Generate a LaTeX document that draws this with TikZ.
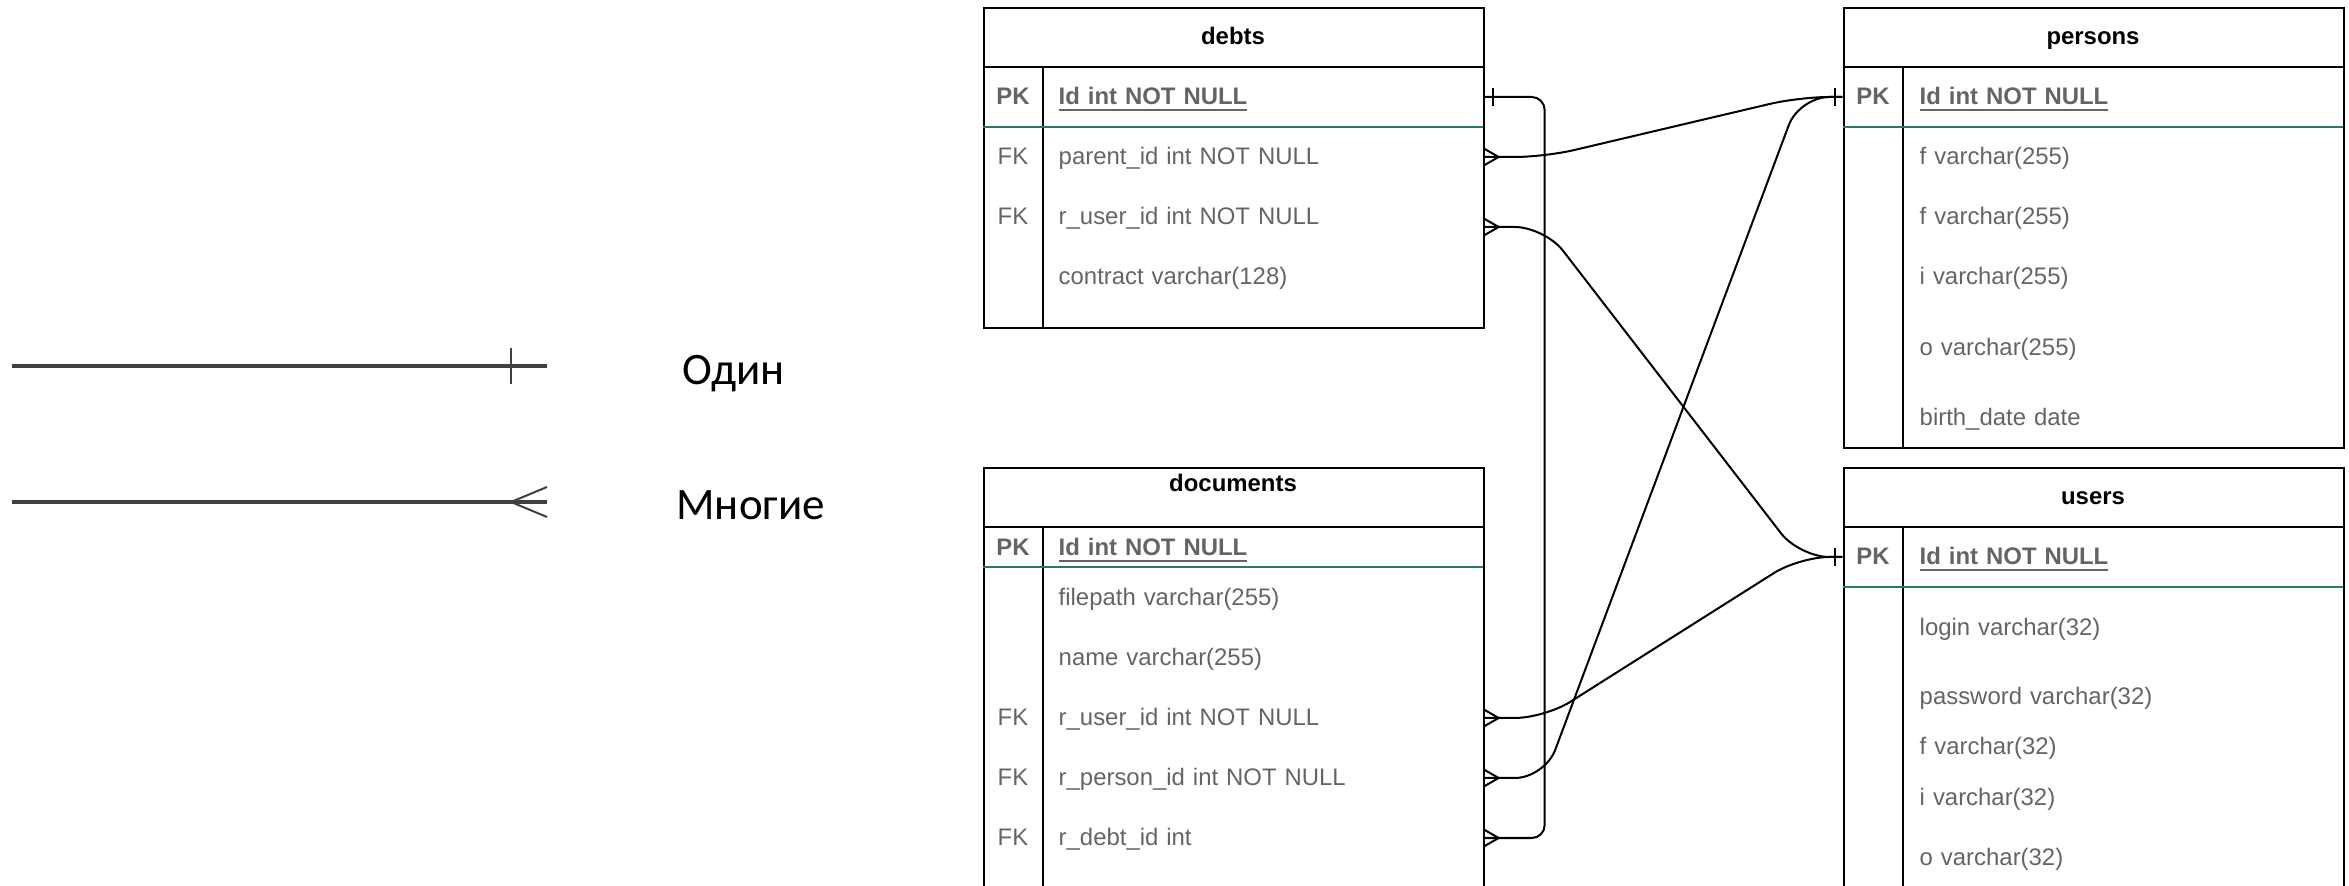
\documentclass[tikz,border=0pt]{standalone}
\usepackage{fontspec}
\setmainfont{Liberation Sans}
\newfontfamily\legendfont{Carlito}
\usetikzlibrary{positioning,decorations.markings}
\definecolor{fieldgray}{RGB}{100,100,100}
\definecolor{pkline}{RGB}{38,122,108}
\tikzset{
  tbl/.style={draw, line width=0.02cm, anchor=north west, minimum width=5cm, inner sep=0},
  hdr/.style={font=\fontsize{6.8}{8}\selectfont\bfseries, text height=5.2pt, text depth=0.8pt},
  key/.style={minimum width=0.6cm, inner sep=0, text=fieldgray, font=\fontsize{6.8}{8}\selectfont,
    text height=5.2pt, text depth=0.8pt},
  fld/.style={anchor=west, inner sep=0, text width=4.25cm, text=fieldgray, font=\fontsize{6.8}{8}\selectfont,
    text height=5.2pt, text depth=0.8pt},
  sep/.style={line width=0.02cm},
  pksep/.style={line width=0.02cm, pkline},
  conn/.style={line width=0.02cm},
  legline/.style={line width=0.035cm, black!75},
  legtext/.style={anchor=west, font=\legendfont\fontsize{12.8}{15}\selectfont},
  manyend/.style 2 args={postaction={decorate, decoration={markings,
      mark=at position 1 with {\draw[line width=0.02cm] (-#1,0) -- (0,#2) (-#1,0) -- (0,-#2);}}}},
  oneend/.style 2 args={postaction={decorate, decoration={markings,
      mark=at position #1 with {\draw[line width=0.02cm] (0,-#2) -- (0,#2);}}}},
}
\begin{document}
\begin{tikzpicture}[x=0.01cm, y=-0.01cm]
  \useasboundingbox (0,0) rectangle (2349,886);
  \clip (0,0) rectangle (2349,886);

  % tables
  \begin{scope}[every node/.style={tbl}]
    \node[minimum height=3.2cm] (debts) at (983,7) {};
    \node[minimum height=4.4cm] (documents) at (983,467) {};
    \node[minimum height=4.4cm] (persons) at (1843,7) {};
    \node[minimum height=4.4cm] (users) at (1843,467) {};
  \end{scope}

  \node[hdr] (debtst) at (1233,37) {debts};
  \node[hdr] (documentst) at (1233,484) {documents};
  \node[hdr] (personst) at (2093,37) {persons};
  \node[hdr] (userst) at (2093,497) {users};

  \draw[sep] (983,67) -- (1483,67) (1043,67) -- (1043,327);
  \draw[pksep] (983,127) -- (1483,127);
  \draw[sep] (983,527) -- (1483,527) (1043,527) -- (1043,900);
  \draw[pksep] (983,567) -- (1483,567);
  \draw[sep] (1843,67) -- (2343,67) (1903,67) -- (1903,447);
  \draw[pksep] (1843,127) -- (2343,127);
  \draw[sep] (1843,527) -- (2343,527) (1903,527) -- (1903,900);
  \draw[pksep] (1843,587) -- (2343,587);

  % debts
  \node[key, font=\fontsize{6.8}{8}\selectfont\bfseries] (dpk) at (1013,97) {PK};
  \node[key] (dfk1) at (1013,157) {FK};
  \node[key] (dfk2) at (1013,217) {FK};
  \node[fld, font=\fontsize{6.8}{8}\selectfont\bfseries] (did) at (1058,97) {\underline{Id int NOT NULL}};
  \node[fld] (dparent) at (1058,157) {parent\_id int NOT NULL};
  \node[fld] (duser) at (1058,217) {r\_user\_id int NOT NULL};
  \node[fld] (dcontract) at (1058,277) {contract varchar(128)};

  % documents
  \node[key, font=\fontsize{6.8}{8}\selectfont\bfseries] (cpk) at (1013,548) {PK};
  \node[key] (cfk1) at (1013,718) {FK};
  \node[key] (cfk2) at (1013,778) {FK};
  \node[key] (cfk3) at (1013,838) {FK};
  \node[fld, font=\fontsize{6.8}{8}\selectfont\bfseries] (cid) at (1058,548) {\underline{Id int NOT NULL}};
  \node[fld] (cpath) at (1058,598) {filepath varchar(255)};
  \node[fld] (cname) at (1058,658) {name varchar(255)};
  \node[fld] (cuser) at (1058,718) {r\_user\_id int NOT NULL};
  \node[fld] (cperson) at (1058,778) {r\_person\_id int NOT NULL};
  \node[fld] (cdebt) at (1058,838) {r\_debt\_id int};

  % persons
  \node[key, font=\fontsize{6.8}{8}\selectfont\bfseries] (ppk) at (1873,97) {PK};
  \node[fld, font=\fontsize{6.8}{8}\selectfont\bfseries] (pid) at (1919,97) {\underline{Id int NOT NULL}};
  \node[fld] (pf1) at (1919,157) {f varchar(255)};
  \node[fld] (pf2) at (1919,217) {f varchar(255)};
  \node[fld] (pi) at (1919,277) {i varchar(255)};
  \node[fld] (po) at (1919,348) {o varchar(255)};
  \node[fld] (pbirth) at (1919,418) {birth\_date date};

  % users
  \node[key, font=\fontsize{6.8}{8}\selectfont\bfseries] (upk) at (1873,557) {PK};
  \node[fld, font=\fontsize{6.8}{8}\selectfont\bfseries] (uid) at (1919,557) {\underline{Id int NOT NULL}};
  \node[fld] (ulogin) at (1919,628) {login varchar(32)};
  \node[fld] (upass) at (1919,697) {password varchar(32)};
  \node[fld] (uf) at (1919,747) {f varchar(32)};
  \node[fld] (ui) at (1919,798) {i varchar(32)};
  \node[fld] (uo) at (1919,858) {o varchar(32)};

  % relations
  \draw[conn, oneend={0.08cm}{9}, manyend={14}{8}, rounded corners=0.13cm]
    (did.east) -- ++(60,0) -- ([xshift=0.6cm]cdebt.east) -- (cdebt.east);
  \draw[conn, oneend={0.07cm}{9}, manyend={14}{8}, rounded corners=0.3cm]
    (ppk.west) -- ++(-43,0) -- ([xshift=0.6cm]dparent.east) -- (dparent.east);
  \draw[conn, oneend={0.07cm}{9}, manyend={14}{8}, rounded corners=0.3cm]
    (upk.west) -- ++(-43,0) -- ([xshift=0.6cm,yshift=-0.1cm]duser.east) -- ([yshift=-0.1cm]duser.east);
  \draw[conn, oneend={0.07cm}{9}, manyend={14}{8}, rounded corners=0.3cm]
    (upk.west) -- ++(-43,0) -- ([xshift=0.6cm]cuser.east) -- (cuser.east);
  \draw[conn, oneend={0.07cm}{9}, manyend={14}{8}, rounded corners=0.3cm]
    (ppk.west) -- ++(-43,0) -- ([xshift=0.6cm]cperson.east) -- (cperson.east);

  % legend
  \coordinate (ona) at (12,366);
  \coordinate (onb) at (547,366);
  \coordinate (mna) at (12,502);
  \coordinate (mnb) at (547,502);
  \draw[legline, oneend={0.36cm}{18}] (onb) -- (ona);
  \draw[legline, manyend={36}{15}] (mna) -- (mnb);
  \node[legtext] (odin) at (670,374) {Один};
  \node[legtext] (mnogie) at (664,505) {Многие};
\end{tikzpicture}
\end{document}
